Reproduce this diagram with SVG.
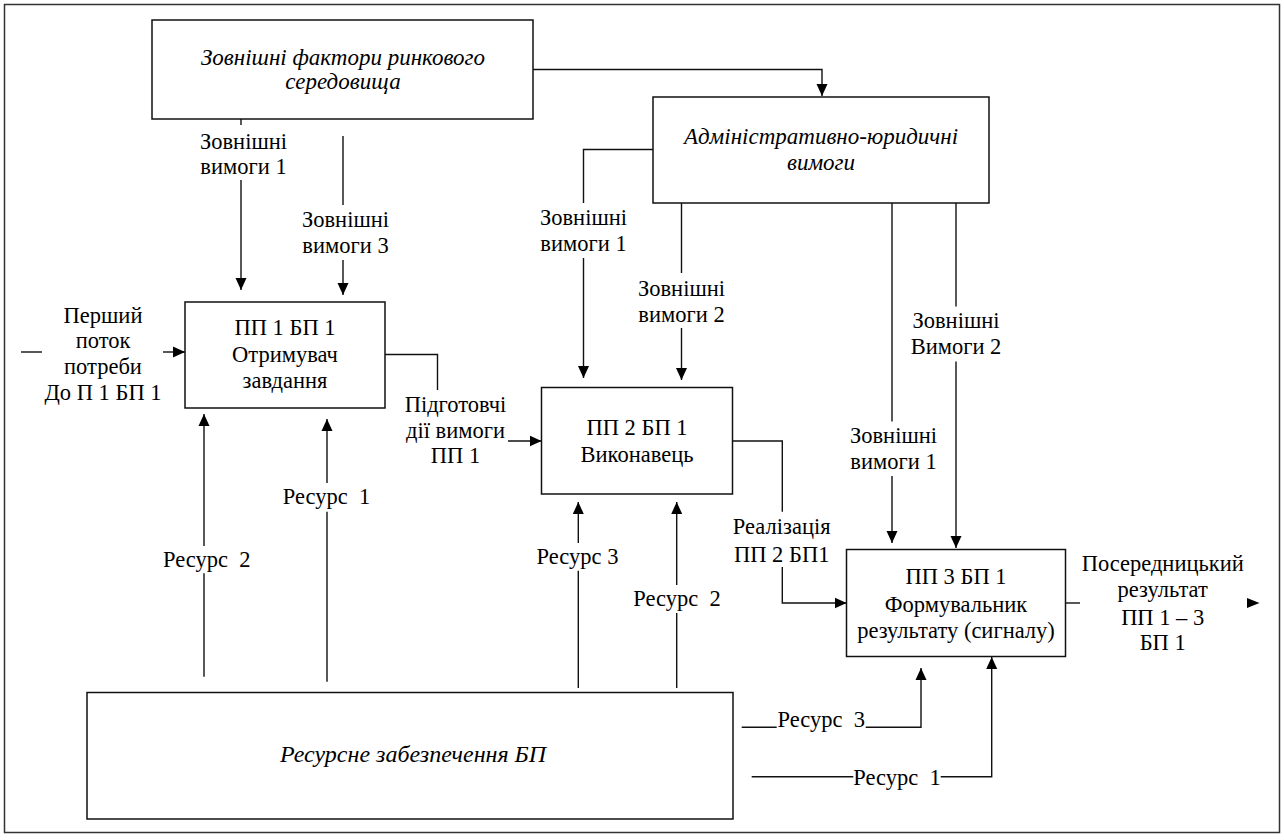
<svg xmlns="http://www.w3.org/2000/svg" width="1284" height="840" viewBox="0 0 1284 840">
<style>
  text { font-family: 'Liberation Serif', Tinos, 'DejaVu Serif', serif; font-size: 22.5px; fill: #000; text-anchor: middle; }
  .it { font-style: italic; font-size: 23px; }
  .box { fill: #fff; stroke: #111; stroke-width: 1.5; }
  .ln { fill: none; stroke: #111; stroke-width: 1.4; }
  .arr { marker-end: url(#ah); }
</style>
<defs>
  <marker id="ah" viewBox="0 0 12 12" refX="12" refY="6" markerWidth="12" markerHeight="12" markerUnits="userSpaceOnUse" orient="auto">
    <path d="M0,0.5 L12,6 L0,11.5 z" fill="#000"/>
  </marker>
</defs>
<rect x="0" y="0" width="1284" height="840" fill="#fff"/>
<rect x="4.5" y="4.5" width="1275" height="828" fill="none" stroke="#333" stroke-width="1.5"/>

<g id="node-external">
  <rect class="box" x="152" y="20" width="381" height="99"/>
  <text class="it" x="343" y="65">Зовнішні фактори ринкового</text>
  <text class="it" x="343" y="89">середовища</text>
</g>
<g id="node-admin">
  <rect class="box" x="653" y="97" width="336" height="106"/>
  <text class="it" x="821" y="144">Адміністративно-юридичні</text>
  <text class="it" x="821" y="170">вимоги</text>
</g>
<g id="node-pp1">
  <rect class="box" x="185" y="302" width="200" height="106"/>
  <text x="285" y="335">ПП 1 БП 1</text>
  <text x="285" y="361.5">Отримувач</text>
  <text x="285" y="388">завдання</text>
</g>
<g id="node-pp2">
  <rect class="box" x="541.5" y="387.5" width="191" height="106.5"/>
  <text x="637" y="435">ПП 2 БП 1</text>
  <text x="637" y="461.5">Виконавець</text>
</g>
<g id="node-pp3">
  <rect class="box" x="846.5" y="549.5" width="219" height="107"/>
  <text x="956" y="584">ПП 3 БП 1</text>
  <text x="956" y="611.5">Формувальник</text>
  <text x="956" y="638">результату (сигналу)</text>
</g>
<g id="node-resource">
  <rect class="box" x="87" y="692.5" width="646" height="126.5"/>
  <text class="it" x="413" y="761.5" style="font-size:24px">Ресурсне забезпечення БП</text>
</g>

<g id="connectors">
  <path class="ln arr" d="M533,69.5 H822 V96"/>

  <path class="ln" d="M241,119 V125"/>
  <path class="ln arr" d="M241,180 V290"/>
  <text x="243.5" y="149">Зовнішні</text>
  <text x="243.5" y="173.5">вимоги 1</text>

  <path class="ln" d="M343,136 V205"/>
  <path class="ln arr" d="M343,260 V295"/>
  <text x="345.5" y="226.5">Зовнішні</text>
  <text x="345.5" y="253">вимоги 3</text>

  <path class="ln" d="M653,149.5 H583.5 V203"/>
  <path class="ln arr" d="M583.5,258 V378"/>
  <text x="583.5" y="225">Зовнішні</text>
  <text x="583.5" y="250.5">вимоги 1</text>

  <path class="ln" d="M681.5,203 V273"/>
  <path class="ln arr" d="M681.5,328 V380"/>
  <text x="681.5" y="295.5">Зовнішні</text>
  <text x="681.5" y="322">вимоги 2</text>

  <path class="ln" d="M892,203 V421.5"/>
  <path class="ln arr" d="M892,476 V543"/>
  <text x="893.5" y="443">Зовнішні</text>
  <text x="893.5" y="468.5">вимоги 1</text>

  <path class="ln" d="M956,203 V306.5"/>
  <path class="ln arr" d="M956,361.5 V548"/>
  <text x="956" y="328">Зовнішні</text>
  <text x="956" y="354">Вимоги 2</text>

  <path class="ln" d="M21,352 H42"/>
  <path class="ln arr" d="M163,352 H185"/>
  <text x="103" y="322.5">Перший</text>
  <text x="103" y="348">поток</text>
  <text x="103" y="374">потреби</text>
  <text x="103" y="399.5">До П 1 БП 1</text>

  <path class="ln" d="M385,354.5 H437.5 V390"/>
  <path class="ln arr" d="M508,441 H541.5"/>
  <text x="455.5" y="412">Підготовчі</text>
  <text x="455.5" y="437.5">дії вимоги</text>
  <text x="455.5" y="463">ПП 1</text>

  <path class="ln" d="M732.5,441 H782.3 V511.7"/>
  <path class="ln arr" d="M782.3,567 V603 H846.5"/>
  <text x="781.7" y="534">Реалізація</text>
  <text x="781.7" y="561.5">ПП 2 БП1</text>

  <path class="ln" d="M1065.5,603 H1080"/>
  <path d="M1247,598 L1259.5,603 L1247,608 z" fill="#000"/>
  <text x="1162.7" y="570.5">Посередницький</text>
  <text x="1162.7" y="597">результат</text>
  <text x="1162.7" y="624.5">ПП 1 – 3</text>
  <text x="1162.7" y="650">БП 1</text>

  <path class="ln" d="M204,676.7 V573.3"/>
  <path class="ln arr" d="M204,546 V414"/>
  <text x="206.7" y="566.5" xml:space="preserve">Ресурс  2</text>

  <path class="ln" d="M327,681.7 V511.7"/>
  <path class="ln arr" d="M327,483 V419"/>
  <text x="326.5" y="504" xml:space="preserve">Ресурс  1</text>

  <path class="ln" d="M578.3,688 V570.7"/>
  <path class="ln arr" d="M578.3,543 V502"/>
  <text x="577.5" y="564">Ресурс 3</text>

  <path class="ln" d="M676.7,688 V613"/>
  <path class="ln arr" d="M676.7,585 V502"/>
  <text x="677" y="606" xml:space="preserve">Ресурс  2</text>

  <path class="ln" d="M741.7,727.3 H776.7"/>
  <path class="ln arr" d="M865.7,727.3 H921 V668"/>
  <text x="821.2" y="727.3" xml:space="preserve">Ресурс  3</text>

  <path class="ln" d="M751.7,776.7 H853.3"/>
  <path class="ln arr" d="M940.7,776.7 H991.7 V657"/>
  <text x="897" y="784.5" xml:space="preserve">Ресурс  1</text>
</g>
</svg>
